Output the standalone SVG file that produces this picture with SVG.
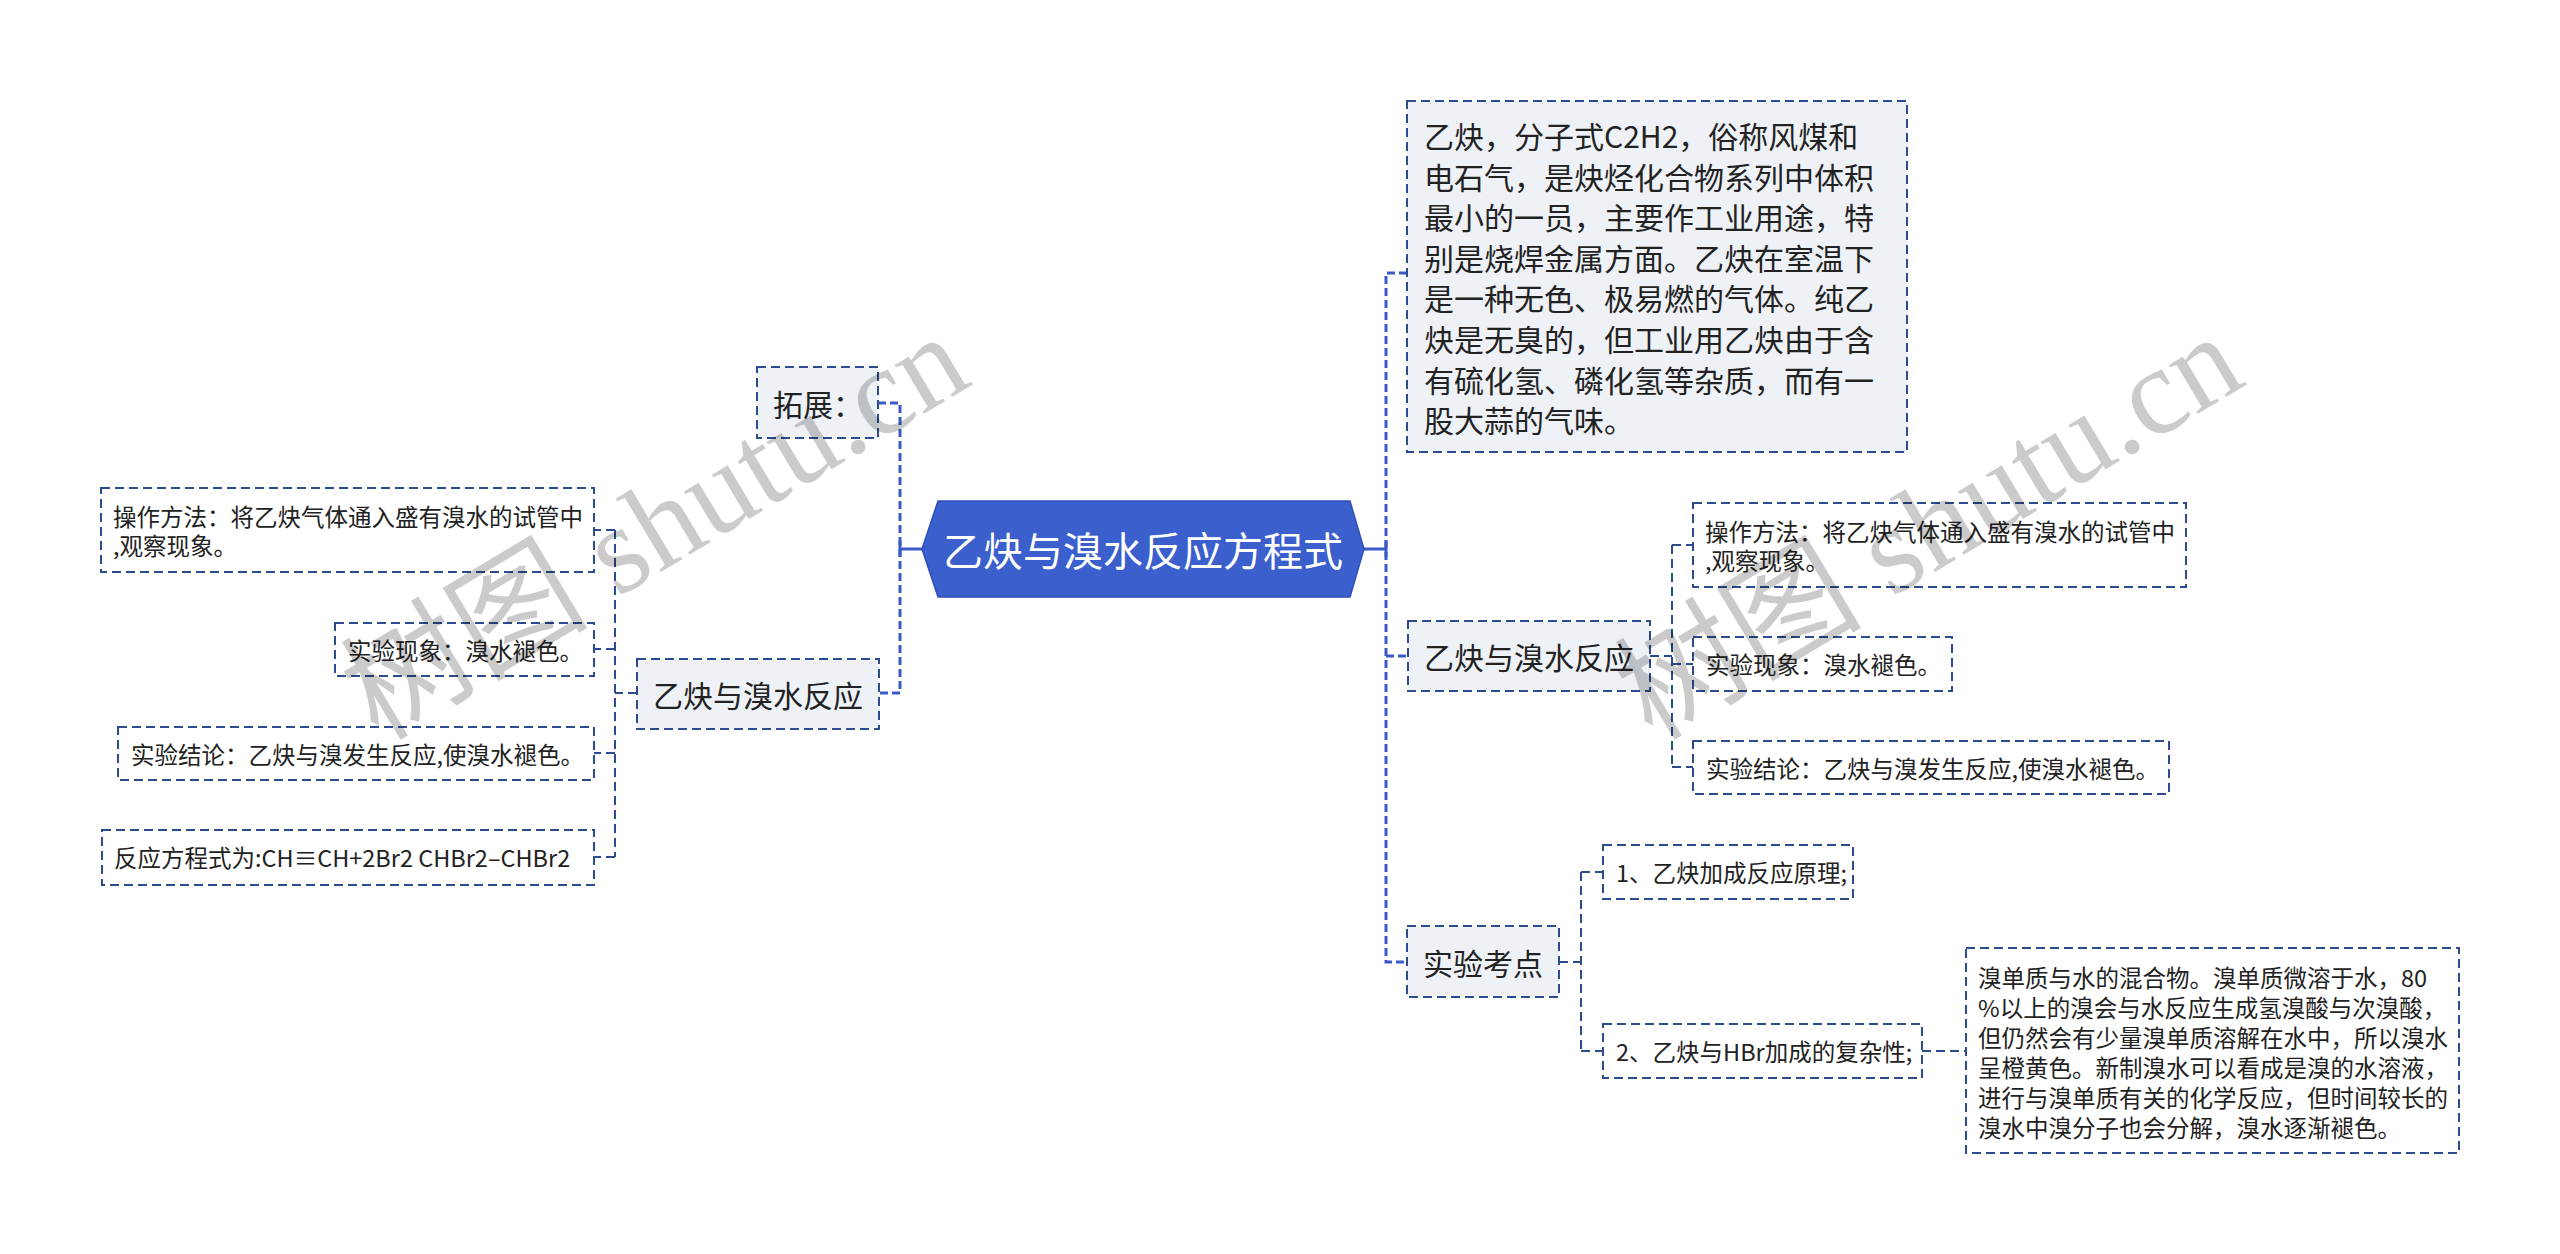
<svg xmlns="http://www.w3.org/2000/svg" width="2560" height="1254" viewBox="0 0 2560 1254">
<style>
.bg{fill:#ffffff}
.b1{fill:#eef1f6;stroke:#2d4c8f;stroke-width:2;stroke-dasharray:9 5}
.b2{fill:#ffffff;stroke:#2d4c8f;stroke-width:2;stroke-dasharray:9 5}
.t{font-family:"Noto Sans CJK SC","Noto Sans",sans-serif;fill:#222222;dominant-baseline:central}
.t1{font-size:30px}
.t2{font-size:23.5px}
.tc{font-size:40px;fill:#ffffff;text-anchor:middle}
.mid{text-anchor:middle}
.c1{fill:none;stroke:#3a5bc7;stroke-width:3;stroke-dasharray:8 4}
.c1s{fill:none;stroke:#3a5bc7;stroke-width:3}
.c2{fill:none;stroke:#2d4c8f;stroke-width:2;stroke-dasharray:9 5}
.wm{font-family:"Liberation Serif","Noto Sans CJK SC",serif;font-size:124px;fill:#000000;opacity:0.2;text-anchor:middle;dominant-baseline:central}
</style>
<rect class="bg" x="0" y="0" width="2560" height="1254"/>
<g id="connectors">
<path class="c1s" d="M922,549 H900 M900,541 V557 M1363,549 H1386 M1386,541 V557"/>
<path class="c1" d="M878,403 H900 V693 H879"/>
<path class="c1" d="M1407,273 H1386 V962 H1407 M1386,656 H1408"/>
<path class="c2" d="M637,693 H615 M615,530 V857 M615,530 H594 M615,649 H594 M615,753 H594 M615,857 H594"/>
<path class="c2" d="M1650,656 H1672 M1672,545 V767 M1672,545 H1693 M1672,664 H1693 M1672,767 H1693"/>
<path class="c2" d="M1559,962 H1581 M1581,872 V1051 M1581,872 H1603 M1581,1051 H1603"/>
<path class="c2" d="M1922,1051 H1966"/>
</g>
<g id="root">
<polygon points="922,549 938,501 1350,501 1364,549 1350,597 938,597" fill="#3b5fcc" stroke="#2f50bd" stroke-width="1.5"/>
<text class="t tc" x="1143" y="549">乙炔与溴水反应方程式</text>
</g>
<g id="n_tuozhan">
<rect class="b1" x="757" y="367" width="121" height="71"/>
<text class="t t1" x="773" y="402.5">拓展：</text>
</g>
<g id="n_l_fanying">
<rect class="b1" x="637" y="659" width="242" height="70"/>
<text class="t t1 mid" x="758" y="694">乙炔与溴水反应</text>
</g>
<g id="n_l_caozuo">
<rect class="b2" x="101" y="488" width="493" height="84"/>
<text class="t t2" x="113" y="516">操作方法：将乙炔气体通入盛有溴水的试管中</text>
<text class="t t2" x="113" y="545">,观察现象。</text>
</g>
<g id="n_l_xianxiang">
<rect class="b2" x="335" y="623" width="259" height="53"/>
<text class="t t2" x="348" y="649.5">实验现象：溴水褪色。</text>
</g>
<g id="n_l_jielun">
<rect class="b2" x="118" y="727" width="476" height="53"/>
<text class="t t2" x="131" y="753.5">实验结论：乙炔与溴发生反应,使溴水褪色。</text>
</g>
<g id="n_l_fangcheng">
<rect class="b2" x="102" y="830" width="492" height="55"/>
<text class="t t2" x="114" y="857">反应方程式为:CH≡CH+2Br2 CHBr2–CHBr2</text>
</g>
<g id="n_r_intro">
<rect class="b1" x="1407" y="101" width="500" height="351"/>
<text class="t t1" x="1424" y="135">乙炔，分子式C2H2，俗称风煤和</text>
<text class="t t1" x="1424" y="175.6">电石气，是炔烃化合物系列中体积</text>
<text class="t t1" x="1424" y="216.2">最小的一员，主要作工业用途，特</text>
<text class="t t1" x="1424" y="256.8">别是烧焊金属方面。乙炔在室温下</text>
<text class="t t1" x="1424" y="297.4">是一种无色、极易燃的气体。纯乙</text>
<text class="t t1" x="1424" y="338">炔是无臭的，但工业用乙炔由于含</text>
<text class="t t1" x="1424" y="378.6">有硫化氢、磷化氢等杂质，而有一</text>
<text class="t t1" x="1424" y="419.2">股大蒜的气味。</text>
</g>
<g id="n_r_fanying">
<rect class="b1" x="1408" y="621" width="242" height="70"/>
<text class="t t1 mid" x="1529" y="656">乙炔与溴水反应</text>
</g>
<g id="n_r_caozuo">
<rect class="b2" x="1693" y="503" width="493" height="84"/>
<text class="t t2" x="1705" y="531">操作方法：将乙炔气体通入盛有溴水的试管中</text>
<text class="t t2" x="1705" y="560">,观察现象。</text>
</g>
<g id="n_r_xianxiang">
<rect class="b2" x="1693" y="637" width="259" height="54"/>
<text class="t t2" x="1706" y="664">实验现象：溴水褪色。</text>
</g>
<g id="n_r_jielun">
<rect class="b2" x="1693" y="741" width="476" height="53"/>
<text class="t t2" x="1706" y="767.5">实验结论：乙炔与溴发生反应,使溴水褪色。</text>
</g>
<g id="n_r_kaodian">
<rect class="b1" x="1407" y="926" width="152" height="71"/>
<text class="t t1 mid" x="1483" y="961.5">实验考点</text>
</g>
<g id="n_r_k1">
<rect class="b2" x="1603" y="845" width="250" height="54"/>
<text class="t t2" x="1616" y="872">1、乙炔加成反应原理;</text>
</g>
<g id="n_r_k2">
<rect class="b2" x="1603" y="1024" width="319" height="54"/>
<text class="t t2" x="1616" y="1051">2、乙炔与HBr加成的复杂性;</text>
</g>
<g id="n_r_long">
<rect class="b2" x="1966" y="948" width="493" height="205"/>
<text class="t t2" x="1978" y="977">溴单质与水的混合物。溴单质微溶于水，80</text>
<text class="t t2" x="1978" y="1007">%以上的溴会与水反应生成氢溴酸与次溴酸，</text>
<text class="t t2" x="1978" y="1037">但仍然会有少量溴单质溶解在水中，所以溴水</text>
<text class="t t2" x="1978" y="1067">呈橙黄色。新制溴水可以看成是溴的水溶液，</text>
<text class="t t2" x="1978" y="1097">进行与溴单质有关的化学反应，但时间较长的</text>
<text class="t t2" x="1978" y="1127">溴水中溴分子也会分解，溴水逐渐褪色。</text>
</g>
<g id="watermarks">
<text class="wm" transform="translate(655,527) rotate(-31)">树图 shutu.cn</text>
<text class="wm" transform="translate(1929,527) rotate(-31)">树图 shutu.cn</text>
</g>
</svg>
